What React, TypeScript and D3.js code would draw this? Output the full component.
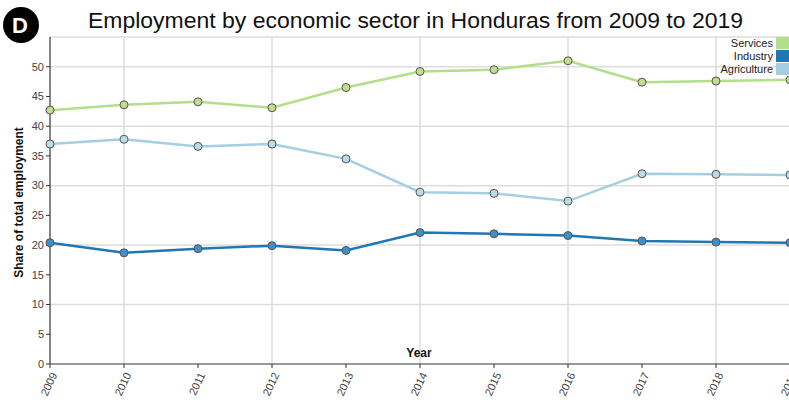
import React from "react";
import * as d3 from "d3";

const years = [2009, 2010, 2011, 2012, 2013, 2014, 2015, 2016, 2017, 2018, 2019];
const services = [42.7, 43.6, 44.1, 43.1, 46.5, 49.2, 49.5, 51.0, 47.4, 47.6, 47.8];
const industry = [20.4, 18.7, 19.4, 19.9, 19.1, 22.1, 21.9, 21.6, 20.7, 20.5, 20.4];
const agriculture = [37.0, 37.8, 36.6, 37.0, 34.5, 28.9, 28.7, 27.4, 32.0, 31.9, 31.8];
const yTicks = [0, 5, 10, 15, 20, 25, 30, 35, 40, 45, 50];
const yGrid = [10, 20, 30, 40, 50];
const xGrid = [2010, 2012, 2014, 2016, 2018];
const seriesNames = ["Services", "Industry", "Agriculture"];
const seriesColors = ["#b2df8a", "#1f78b4", "#a6cee3"];
const pointFills = ["#c5dc8e", "#3f8fca", "#bcdbe8"];

export default function App() {
  const W = 789, H = 402;
  const left = 50, right = 790, top = 37, bottom = 364;
  const x = d3.scaleLinear().domain([2009, 2019]).range([left, right]);
  const y = d3.scaleLinear().domain([0, 55]).range([bottom, top]);
  const line = d3.line<number>().x((_, i) => x(years[i])).y((d) => y(d));
  const series = [services, industry, agriculture];
  const drawOrder = [2, 0, 1];
  const font = "Arial, 'Liberation Sans', Helvetica, sans-serif";
  return (
    <svg width={W} height={H} style={{ position: "absolute", left: 0, top: 0, fontFamily: font }}>
      <rect width={W} height={H} fill="#fff" />
      {/* grid */}
      <line x1={left} x2={right} y1={top} y2={top} stroke="#ddd" strokeWidth={1.5} />
      {yGrid.map((t) => (
        <line key={"yg" + t} x1={left} x2={right} y1={y(t)} y2={y(t)} stroke="#ddd" strokeWidth={1.5} />
      ))}
      {xGrid.map((t) => (
        <line key={"xg" + t} x1={x(t)} x2={x(t)} y1={top} y2={bottom} stroke="#ddd" strokeWidth={1.5} />
      ))}
      {/* axes */}
      <line x1={left} x2={left} y1={top} y2={bottom} stroke="#333" strokeWidth={1.2} />
      <line x1={left} x2={right} y1={bottom} y2={bottom} stroke="#333" strokeWidth={1.2} />
      {yTicks.map((t) => (
        <g key={"yt" + t}>
          <line x1={left - 4} x2={left} y1={y(t)} y2={y(t)} stroke="#333" />
          <text x={left - 6} y={y(t)} dy="0.35em" textAnchor="end" fontSize={11} fill="#444">{t}</text>
        </g>
      ))}
      {years.map((t) => (
        <g key={"xt" + t}>
          <line x1={x(t)} x2={x(t)} y1={bottom} y2={bottom + 4} stroke="#333" />
          <text transform={`translate(${x(t) + 4},${bottom + 9}) rotate(-65)`} textAnchor="end" dy="0.35em" fontSize={11} fill="#444">{t}</text>
        </g>
      ))}
      <text x={419} y={357} textAnchor="middle" fontSize={12} fontWeight="bold" fill="#111">Year</text>
      <text transform={`translate(23,${(top + bottom) / 2 + 2}) rotate(-90)`} textAnchor="middle" fontSize={12} fontWeight="bold" fill="#111">Share of total employment</text>
      {/* lines */}
      {drawOrder.map((si) => (
        <path key={"l" + si} d={line(series[si]) || ""} fill="none" stroke={seriesColors[si]} strokeWidth={2.5} />
      ))}
      {drawOrder.map((si) => (
        <g key={"p" + si}>
          {series[si].map((v, i) => (
            <circle key={i} cx={x(years[i])} cy={y(v)} r={4} fill={pointFills[si]} stroke="#555" strokeWidth={1} />
          ))}
        </g>
      ))}
      {/* legend */}
      {seriesNames.map((n, i) => (
        <g key={"lg" + n}>
          <rect x={776} y={37 + i * 13} width={14} height={12} fill={seriesColors[i]} />
          <text x={773} y={43 + i * 13} dy="0.35em" textAnchor="end" fontSize={11} fill="#222">{n}</text>
        </g>
      ))}
      {/* title */}
      <text x={88} y={28} textAnchor="start" fontSize={22} textLength={655} lengthAdjust="spacingAndGlyphs" fill="#111">Employment by economic sector in Honduras from 2009 to 2019</text>
      {/* logo */}
      <circle cx={21} cy={25} r={18} fill="#000" />
      <text x={20} y={33} textAnchor="middle" fontSize={22} fontWeight="bold" fill="#fff">D</text>
    </svg>
  );
}
